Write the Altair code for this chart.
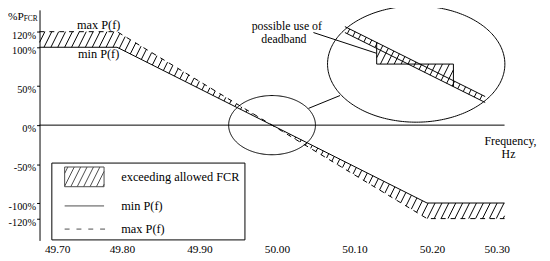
import numpy as np
import pandas as pd
import altair as alt

# ---------------- data ----------------
freq = [49.70, 49.80, 50.00, 50.20, 50.30]
min_p = [100, 100, 0, -100, -100]      # solid characteristic
max_p = [120, 120, 0, -120, -120]      # dashed characteristic
x_ticks = [49.70, 49.80, 49.90, 50.00, 50.10, 50.20, 50.30]
y_ticks = [120, 100, 50, 0, -50, -100, -120]
legend_labels = ["exceeding allowed FCR", "min P(f)", "max P(f)"]

# magnified deadband sketch (in Hz / %)
inset_f = [50.094, 50.275]
inset_a = [126.5, 36.7]
inset_b = [118.9, 29.1]
step_f = [50.135, 50.135, 50.234, 50.234]
step_p = [106.3, 78.4, 78.4, 49.3]
inset_up_f = [50.094, 50.191, 50.234, 50.234, 50.275]
inset_up_p = [126.5, 78.4, 78.4, 56.9, 36.7]
inset_lo_f = [50.094, 50.135, 50.135, 50.175, 50.275]
inset_lo_p = [118.9, 98.7, 78.4, 78.4, 29.1]

# callout ellipses: centre (Hz, %), radii (Hz, %)
small_ell = (50.00, 0.0, 0.056, 38.0)
big_ell = (50.186, 78.4, 0.1144, 74.6)
connector_f = [50.047, 50.0877]
connector_p = [21.5, 38.0]
pointer_f = [50.0534, 50.1347]
pointer_p = [118.9, 92.3]

# ---------------- layout ----------------
FONT = "Liberation Serif"
W, H = 472, 234
X0, X1 = 49.70, 50.30
Y0, Y1 = -148, 148
SX = W / (X1 - X0)
SY = H / (Y1 - Y0)
SLOPE = 2.0
GAP = 7.0


def hatch(lo_f, lo_p, hi_f, hi_p):
    ul = (np.asarray(lo_f) - X0) * SX
    uh = (np.asarray(hi_f) - X0) * SX
    grid = np.linspace(min(ul.min(), uh.min()), max(ul.max(), uh.max()), 6001)
    L = np.interp(grid, ul, np.asarray(lo_p, float) * SY)
    U = np.interp(grid, uh, np.asarray(hi_p, float) * SY)
    gL = SLOPE * grid - L
    gU = SLOPE * grid - U
    cmin = grid[0] - U.max() / SLOPE
    cmax = grid[-1] - L.min() / SLOPE
    rows = []
    for c in np.arange(np.floor(cmin / GAP), np.ceil(cmax / GAP) + 1) * GAP:
        t = SLOPE * c
        a = np.interp(t, gL, grid)
        b = np.interp(t, gU, grid)
        if b - a > 0.3:
            rows.append({"f": X0 + a / SX, "p": SLOPE * (a - c) / SY,
                         "f2": X0 + b / SX, "p2": SLOPE * (b - c) / SY})
    return pd.DataFrame(rows)


def ellipse(e, name):
    cx, cy, rx, ry = e
    t = np.linspace(0, 2 * np.pi, 241)
    return pd.DataFrame({"f": cx + rx * np.cos(t), "p": cy + ry * np.sin(t),
                         "i": np.arange(len(t)), "g": name})


def poly(fs, ps, name):
    return pd.DataFrame({"f": fs, "p": ps, "i": np.arange(len(fs)), "g": name})


def legend_hatch_path(x0, x1, y0, y1, gap, slope):
    parts = [f"M{x0:.3f} {y0:.3f}L{x1:.3f} {y0:.3f}L{x1:.3f} {y1:.3f}L{x0:.3f} {y1:.3f}Z"]
    h = y1 - y0
    for c in np.arange(x0 - h / slope + gap * 0.5, x1, gap):
        xa, ya = c, y1
        xb, yb = c + h / slope, y0
        if xa < x0:
            ya = y1 - (x0 - xa) * slope
            xa = x0
        if xb > x1:
            yb = y0 + (xb - x1) * slope
            xb = x1
        if xb > xa:
            parts.append(f"M{xa:.3f} {ya:.3f}L{xb:.3f} {yb:.3f}")
    return "".join(parts)


sym_x0, sym_x1 = -0.1, 3.9
legend_paths = [
    legend_hatch_path(sym_x0, sym_x1, -1.0, 1.0, 0.65, 2.0),
    f"M{sym_x0} 0L{sym_x1} 0",
    "".join(f"M{sym_x0 + k * 1.2:.2f} 0L{sym_x0 + k * 1.2 + 0.5:.2f} 0" for k in range(4)),
]

curves = pd.concat([
    pd.DataFrame({"f": freq, "p": min_p, "series": "min"}),
    pd.DataFrame({"f": freq, "p": max_p, "series": "max"}),
], ignore_index=True)
band_hi = [max(a, b) for a, b in zip(min_p, max_p)]
band_lo = [min(a, b) for a, b in zip(min_p, max_p)]
hatch_main = hatch(freq, band_lo, freq, band_hi)
hatch_inset = hatch(inset_lo_f, inset_lo_p, inset_up_f, inset_up_p)
hatch_df = pd.concat([hatch_main, hatch_inset], ignore_index=True)

shapes = pd.concat([
    ellipse(small_ell, "small"), ellipse(big_ell, "big"),
    poly(inset_f, inset_a, "a"), poly(inset_f, inset_b, "b"),
    poly(step_f, step_p, "step"),
    poly(connector_f, connector_p, "conn"), poly(pointer_f, pointer_p, "ptr"),
], ignore_index=True)

zero_df = pd.DataFrame({"f": [X0], "f2": [X1], "p": [0]})

xscale = alt.Scale(domain=[X0, X1], nice=False, zero=False)
yscale = alt.Scale(domain=[Y0, Y1], nice=False)

x_axis = alt.Axis(values=x_ticks, format=".2f", domain=False, ticks=False, grid=False,
                  labelOffset=5, labelPadding=3, title=None, labelFont=FONT,
                  labelFontSize=11.5, labelColor="black", labelOverlap=False)
y_axis = alt.Axis(values=y_ticks, labelExpr="datum.value + '%'", grid=False, tickSize=3,
                  labelPadding=1, labelOffset=3.5, title=None, labelFont=FONT,
                  labelFontSize=10.5, labelColor="black", domainColor="black",
                  tickColor="black", domainWidth=1, labelOverlap=False)

min_line = alt.Chart(curves).transform_filter(alt.datum.series == "min").mark_line(
    color="black", strokeWidth=1)
max_line = alt.Chart(curves).transform_filter(alt.datum.series == "max").mark_line(
    color="black", strokeWidth=1, strokeDash=[5, 5])

zero_rule = alt.Chart(zero_df).mark_rule(color="black", strokeWidth=1).encode(x2="f2:Q")

hatch_layer = alt.Chart(hatch_df).mark_rule(color="black", strokeWidth=1).encode(
    x2="f2:Q", y2="p2:Q")

shape_layer = alt.Chart(shapes).mark_line(color="black", strokeWidth=1).encode(
    detail="g:N", order="i:Q")

legend_df = pd.DataFrame({"item": legend_labels, "f": [X0 - 0.5] * 3, "p": [0] * 3})
legend_layer = alt.Chart(legend_df).mark_point(clip=True, filled=False, size=400, strokeWidth=1, color="black").encode(
    shape=alt.Shape("item:N", scale=alt.Scale(domain=legend_labels, range=legend_paths),
                    legend=alt.Legend(title=None, orient="none", legendX=12, legendY=155, padding=4,
                                      rowPadding=6.5, strokeColor="black", fillColor="white",
                                      symbolSize=400, symbolStrokeWidth=1, symbolStrokeColor="black",
                                      symbolFillColor="transparent", labelFont=FONT, labelFontSize=12.5,
                                      labelOffset=46, labelLimit=300, labelColor="black", cornerRadius=0)))


def label(text, x, y, size=12.5, align="center"):
    return alt.Chart(pd.DataFrame({"t": [text]})).mark_text(
        text=text, font=FONT, fontSize=size, align=align, baseline="alphabetic", color="black"
    ).encode(x=alt.value(x), y=alt.value(y))


texts = [
    label("max P(f)", 60, 19),
    label("min P(f)", 60, 49),
    label("possible use of", 251, 20, 12),
    label("deadband", 248, 33.5, 12),
    label("Frequency,", 478, 137, 12),
    label("Hz", 476, 150, 12),
    label("%P", -32, 10, 11.5, "left"),
    label("FCR", -16, 11.5, 7.5, "left"),
]

chart = alt.layer(
    min_line, max_line, zero_rule, hatch_layer, shape_layer, legend_layer, *texts
).encode(
    x=alt.X("f:Q", scale=xscale, axis=x_axis),
    y=alt.Y("p:Q", scale=yscale, axis=y_axis),
).properties(
    width=W, height=H,
    padding={"left": 32, "top": 0, "right": 38, "bottom": 19},
    autosize=alt.AutoSizeParams(type="none"),
    background="white",
).configure_view(strokeWidth=0).configure_axis(labelOverlap=False)

chart.save("out.html", embed_options={"renderer": "svg", "actions": False})
